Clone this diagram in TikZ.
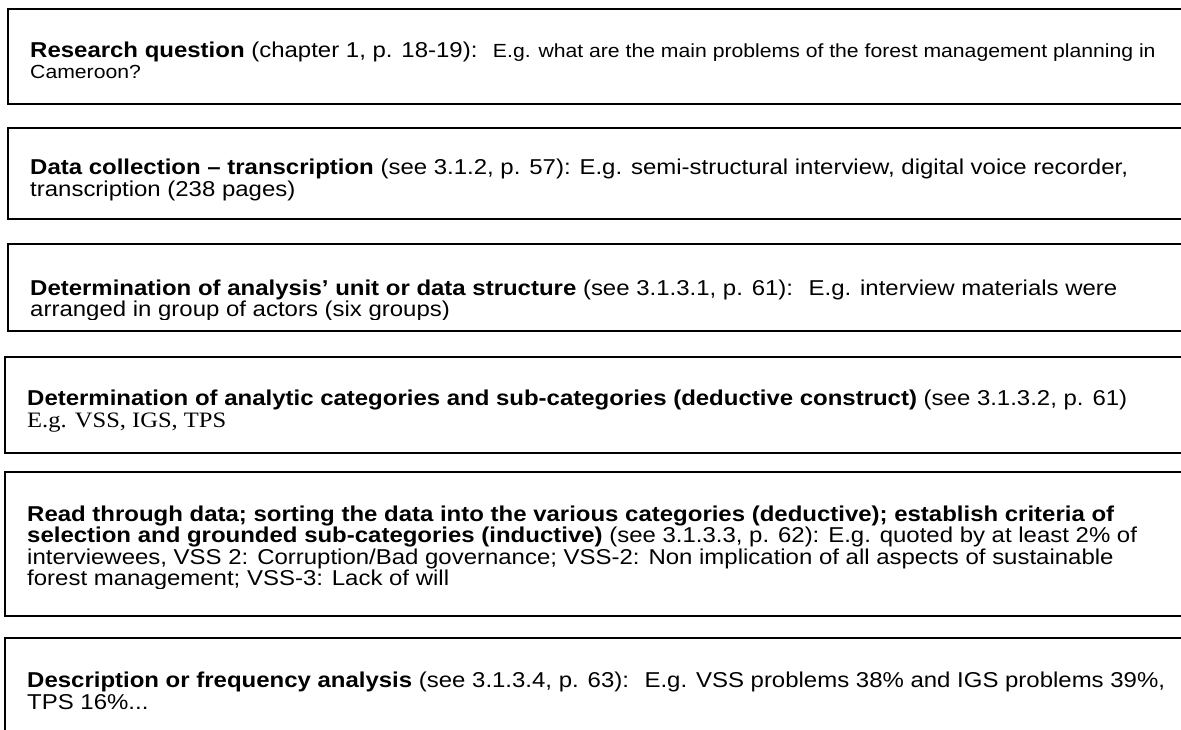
\documentclass[tikz,border=0pt]{standalone}
\usepackage{fontspec}
\setmainfont{Liberation Sans}
\newfontfamily\egserif{Liberation Serif}
\tikzset{
    box/.style={line width=1.6pt},
    txt/.style={anchor=base west, inner sep=0pt, align=left, xscale=1.115, transform shape,
        font=\fontsize{21.5}{21.5}\selectfont},
}
\newcommand{\egsmall}{\fontsize{19}{21.5}\selectfont}

\begin{document}
\begin{tikzpicture}[x=1pt,y=1pt]
            \clip (0,0) rectangle (1181,-729);
            \fill[white] (0,0) rectangle (1181,-729);
            \foreach \t/\b/\l in {9/104/8,128/219/8,244/331/8,357/453/5,472/616/5}{
                \draw[box] (\l,-\t) rectangle (1200,-\b);
            }
            \draw[box] (1200,-638)--(5,-638)--(5,-740);
            % base anchor = baseline of the last line
            \node[txt] (rq) at (30,-78.5){\textbf{Research question} (chapter 1, p. 18-19):~ {\egsmall E.g. what are the main problems of the forest management planning in}\\{\egsmall Cameroon?}};
            \node[txt] (dc) at (30,-196){\textbf{Data collection – transcription} (see 3.1.2, p. 57): E.g. semi-structural interview, digital voice recorder,\\transcription (238 pages)};
            \begin{scope}
                \clip (8,-244) rectangle (1181,-319);
                \node[txt] (unit) at (30,-316.5){\textbf{Determination of analysis’ unit or data structure} (see 3.1.3.1, p. 61):~ E.g. interview materials were\\arranged in group of actors (six groups)};
            \end{scope}
            \node[txt] (cat) at (27,-427){\textbf{Determination of analytic categories and sub-categories (deductive construct)} (see 3.1.3.2, p. 61)\\{\egserif\fontsize{22}{21.5}\selectfont E.g. VSS, IGS, TPS}};
            \begin{scope}
                \clip (5,-472) rectangle (1181,-588);
                \node[txt] (read) at (27,-585.5){\textbf{Read through data; sorting the data into the various categories (deductive); establish criteria of}\\\textbf{selection and grounded sub-categories (inductive)} (see 3.1.3.3, p. 62): E.g. quoted by at least 2\% of\\interviewees, VSS 2: Corruption/Bad governance; VSS-2: Non implication of all aspects of sustainable\\forest management; VSS-3: Lack of will};
            \end{scope}
            \node[txt] (freq) at (27,-709){\textbf{Description or frequency analysis} (see 3.1.3.4, p. 63):~ E.g. VSS problems 38\% and IGS problems 39\%,\\TPS 16\%...};
        \end{tikzpicture}
\end{document}
